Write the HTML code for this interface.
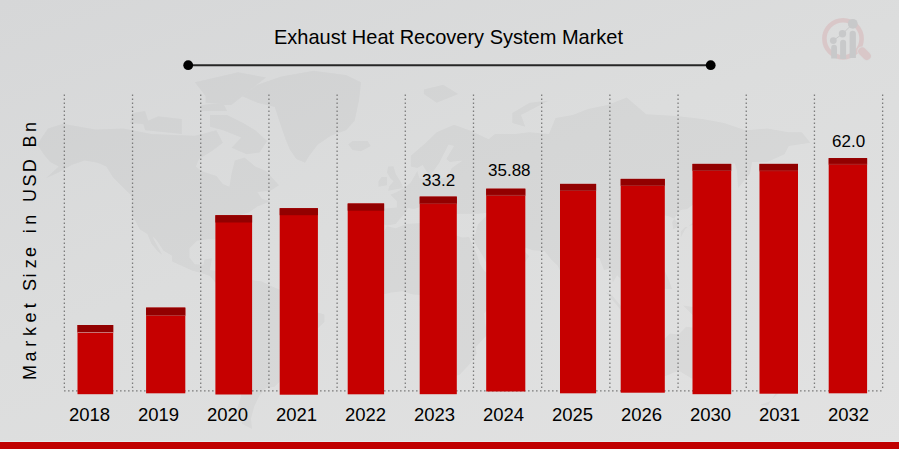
<!DOCTYPE html>
<html><head><meta charset="utf-8">
<style>
html,body{margin:0;padding:0;}
body{width:899px;height:449px;overflow:hidden;position:relative;
background:linear-gradient(160deg,#d6d7d8 0%,#dcdddd 45%,#e2e2e2 100%);
font-family:"Liberation Sans",sans-serif;}
svg{position:absolute;left:0;top:0;}
.t{position:absolute;white-space:nowrap;color:#000;line-height:1;}
</style></head><body>
<svg width="899" height="449" viewBox="0 0 899 449">
  <!-- map placeholder -->
  <g id="map" fill="#000" fill-opacity="0.03"><path d="M37.1 144.4 L47.9 128.5 L63.0 123.7 L95.4 129.6 L123.5 128.5 L151.6 133.9 L194.8 135.7 L216.4 130.3 L222.9 142.7 L212.1 151.0 L199.1 159.0 L195.9 166.6 L201.3 171.1 L216.4 176.0 L222.9 183.9 L229.4 186.7 L231.5 174.0 L234.8 160.5 L244.5 157.4 L255.3 166.6 L266.1 171.1 L279.0 185.3 L270.4 190.8 L257.4 192.1 L261.8 198.7 L270.4 201.3 L257.4 206.4 L248.8 212.6 L240.2 215.1 L235.8 223.5 L235.8 228.2 L225.0 236.2 L227.2 246.3 L226.1 250.3 L221.8 244.1 L218.6 239.6 L207.8 239.2 L197.0 240.8 L189.4 248.5 L189.4 257.3 L194.8 264.3 L203.4 264.8 L204.5 259.4 L212.1 258.3 L209.9 270.1 L218.6 271.1 L219.6 280.6 L228.3 284.1 L233.0 285.8 L227.2 288.2 L215.3 282.6 L209.9 276.0 L201.3 273.0 L192.6 270.7 L172.1 261.6 L172.1 255.7 L163.5 250.7 L157.0 240.8 L152.7 236.2 L153.8 239.6 L162.4 255.1 L158.1 251.8 L151.6 244.1 L147.3 233.9 L139.7 229.3 L132.2 215.1 L131.1 208.9 L132.2 200.0 L130.6 194.8 L123.5 188.1 L112.7 176.9 L106.2 166.6 L97.6 162.7 L84.6 160.5 L71.7 165.1 L58.7 172.6 L45.8 178.3 L58.7 166.6 L50.1 162.1 L43.6 154.2Z M242.3 96.2 L257.4 84.7 L281.2 76.4 L313.6 70.8 L346.0 74.9 L361.1 82.3 L359.0 100.6 L354.6 121.0 L346.0 130.3 L330.9 135.7 L317.9 144.4 L309.3 155.8 L305.0 162.7 L296.3 159.0 L289.8 149.4 L285.5 139.2 L281.2 126.7 L274.7 107.0 L257.4 102.8Z M209.9 115.1 L227.2 115.1 L244.5 123.7 L255.3 130.3 L267.2 141.0 L259.6 152.6 L246.6 154.2 L231.5 147.7 L241.2 137.5 L222.9 130.3 L209.9 126.7Z M145.1 130.3 L181.8 133.9 L181.8 119.0 L158.1 116.3 L143.0 122.9Z M205.6 102.8 L231.5 104.9 L266.1 77.4 L238.0 72.3 L194.8 82.3 L205.6 96.2Z M130.0 122.9 L149.4 124.8 L145.1 111.1 L132.2 113.1Z M201.3 111.1 L227.2 111.1 L222.9 102.8 L201.3 104.9Z M233.0 285.8 L244.5 278.9 L261.8 281.6 L270.4 285.8 L287.7 293.0 L292.0 303.3 L305.0 308.4 L324.4 314.6 L324.4 321.9 L315.8 330.2 L315.8 339.7 L311.4 349.3 L296.3 357.0 L285.5 376.1 L274.7 386.7 L266.1 387.9 L259.6 395.2 L254.2 406.6 L251.0 418.5 L252.0 429.1 L242.3 424.0 L236.9 410.5 L241.2 395.2 L241.2 383.1 L245.6 367.0 L248.2 341.8 L235.8 332.3 L225.0 315.7 L227.2 307.4 L227.2 301.2 L231.5 288.9Z M379.5 208.9 L380.6 218.7 L380.6 223.5 L387.0 225.4 L395.7 223.9 L400.0 218.7 L406.5 211.4 L407.6 208.1 L414.0 208.9 L421.6 206.4 L428.1 212.6 L434.6 221.1 L440.0 215.5 L430.2 210.1 L427.0 202.6 L432.4 203.8 L442.1 211.4 L443.2 217.5 L449.7 224.6 L451.8 221.1 L449.7 215.1 L456.2 213.8 L462.6 213.8 L477.8 213.8 L489.6 212.6 L477.8 224.6 L475.6 232.8 L474.5 236.2 L470.2 237.4 L474.5 240.8 L475.6 244.1 L484.2 258.3 L492.9 276.4 L497.2 276.8 L512.3 270.1 L523.1 264.8 L529.2 256.2 L521.6 248.5 L511.2 252.9 L508.0 247.4 L503.7 240.8 L509.1 239.6 L521.0 246.3 L532.8 250.3 L544.7 251.2 L551.2 259.4 L557.7 265.8 L567.4 286.8 L573.4 275.3 L572.8 271.1 L586.8 261.6 L594.4 257.3 L599.4 258.3 L604.1 270.1 L610.6 268.4 L612.8 282.6 L617.1 275.3 L622.5 280.6 L626.8 285.3 L635.4 279.5 L633.3 270.1 L630.0 262.6 L634.4 258.3 L638.7 260.5 L645.2 256.2 L652.7 254.0 L659.2 247.4 L663.5 239.6 L661.4 233.9 L657.0 228.2 L664.6 223.5 L654.9 221.1 L653.8 217.5 L662.4 215.1 L668.9 216.3 L674.3 218.7 L679.7 225.8 L673.2 229.3 L672.2 222.3 L676.5 215.1 L680.8 210.1 L687.3 208.9 L699.2 200.0 L703.5 186.7 L695.9 179.8 L691.6 177.8 L706.7 165.1 L721.8 163.6 L734.8 163.6 L737.0 171.1 L738.0 188.1 L749.9 174.0 L752.1 162.1 L767.2 162.1 L784.5 154.2 L788.8 146.0 L810.4 142.7 L801.8 132.2 L788.8 132.2 L767.2 128.5 L745.6 130.3 L724.0 122.9 L702.4 119.0 L676.5 115.9 L646.2 114.3 L626.8 97.5 L607.4 104.9 L587.9 109.0 L572.8 115.1 L555.5 117.9 L549.0 133.9 L529.6 132.2 L514.5 133.9 L495.0 133.9 L488.6 139.2 L471.3 131.1 L454.0 124.8 L436.7 132.2 L425.9 142.7 L410.8 155.8 L410.8 166.6 L417.3 168.1 L422.7 165.1 L427.0 172.6 L430.2 175.5 L438.9 163.6 L448.6 144.4 L454.0 146.0 L446.4 159.0 L449.7 162.1 L462.6 160.5 L451.8 168.1 L447.5 176.9 L430.2 179.8 L419.4 178.3 L417.3 171.1 L410.8 182.6 L404.3 188.1 L396.8 192.1 L390.3 194.8 L396.8 201.3 L396.8 207.6Z M363.3 259.4 L364.4 252.9 L371.9 245.0 L379.5 238.5 L387.0 226.3 L395.7 228.2 L406.5 223.9 L421.6 223.0 L423.8 228.2 L421.6 230.5 L432.4 233.9 L443.2 237.4 L443.2 233.9 L454.0 235.1 L462.6 237.4 L469.1 236.9 L470.2 239.6 L472.4 245.2 L476.7 254.0 L479.9 263.7 L484.2 271.1 L493.5 277.4 L495.0 281.6 L510.2 278.9 L510.2 282.6 L503.7 294.0 L488.6 307.4 L484.2 313.6 L485.3 324.0 L487.5 334.4 L475.6 347.2 L476.7 353.7 L470.2 363.6 L459.4 375.0 L447.5 377.3 L440.0 376.1 L436.7 365.8 L432.4 360.3 L425.5 339.7 L429.2 327.1 L425.9 313.6 L419.4 305.4 L420.5 295.1 L413.0 294.4 L402.2 291.3 L391.4 292.6 L383.8 294.2 L374.1 288.9 L367.6 280.6 L363.3 272.8 L365.4 263.7Z M495.0 355.9 L501.5 355.9 L509.1 335.5 L506.5 328.1 L495.0 338.6Z M646.2 349.3 L646.2 359.2 L648.4 376.1 L654.9 378.4 L665.7 376.1 L678.6 370.4 L691.6 378.4 L698.1 378.4 L702.4 385.5 L715.4 387.9 L724.0 384.3 L731.6 362.5 L730.5 355.9 L715.4 342.9 L714.3 334.4 L707.8 325.4 L705.6 339.7 L693.8 334.4 L695.9 328.1 L686.2 326.7 L678.6 334.4 L670.0 333.4 L663.5 339.7Z M605.8 292.0 L611.7 295.1 L629.0 315.7 L624.6 314.6Z M635.4 300.2 L652.7 288.9 L657.0 293.0 L650.6 311.5 L638.7 309.5Z M626.8 316.7 L647.3 319.4 L629.0 318.8Z M683.0 305.4 L704.6 308.7 L724.0 325.0 L708.9 322.9 L698.1 320.2Z M680.8 237.4 L685.1 229.3 L704.6 212.6 L706.7 208.9 L714.3 207.6 L705.6 202.6 L701.3 211.4 L702.4 218.7 L694.8 224.6 L685.1 227.0 L680.8 231.6Z M388.1 190.8 L403.2 188.1 L401.1 182.6 L395.7 174.0 L393.5 166.3 L388.1 166.6 L387.0 172.6 L390.3 178.3 L393.5 181.2 L389.2 186.2Z M378.4 186.7 L387.0 185.3 L387.0 176.9 L381.6 176.9 L378.4 181.2Z M348.2 144.4 L352.5 141.0 L367.6 141.0 L370.8 146.0 L361.1 151.3 L352.5 150.0Z M423.8 94.0 L436.7 102.8 L458.3 94.0 L443.2 84.7 L423.8 89.4Z M512.3 122.9 L525.3 126.7 L521.0 115.1 L549.0 100.6 L529.6 102.8 L512.3 113.1Z M659.2 264.8 L663.5 268.0 L667.8 277.4 L672.2 288.9 L663.5 288.9 L661.4 274.3Z M706.7 201.3 L710.0 193.4 L708.9 179.8 L706.7 179.8Z M773.0 377.3 L785.6 384.8 L778.0 394.0 L769.4 401.5 L759.6 405.3 L768.3 405.3 L775.8 392.8Z"/></g>
  <!-- gridlines -->
  <g stroke="#7c7c7c" stroke-width="1.3" stroke-dasharray="1.6 2.4" fill="none">
    <path d="M64.35 94.5V390 M132.54 94.5V390 M200.73 94.5V390 M268.92 94.5V390 M337.11 94.5V390 M405.30 94.5V390 M473.49 94.5V390 M541.68 94.5V390 M609.87 94.5V390 M678.06 94.5V390 M746.25 94.5V390 M814.44 94.5V390 M882.63 94.5V390"/>
    <path d="M64 390.8H884"/>
  </g>
  <!-- bars -->
  <g id="bars">
    <rect x="77.5" y="325.0" width="35.7" height="69.2" fill="#c60000"/>
    <rect x="77.5" y="325.0" width="35.7" height="7.0" fill="#920000"/>
    <rect x="77.5" y="332.0" width="35.7" height="1" fill="#c87474"/>
    <rect x="146.1" y="307.6" width="39.2" height="85.7" fill="#c60000"/>
    <rect x="146.1" y="307.6" width="39.2" height="7.4" fill="#920000"/>
    <rect x="146.1" y="315.0" width="39.2" height="1" fill="#b03333"/>
    <rect x="215.4" y="215.2" width="36.7" height="179.3" fill="#c60000"/>
    <rect x="215.4" y="215.2" width="36.7" height="7.3" fill="#920000"/>
    <rect x="279.7" y="208.2" width="38.2" height="186.5" fill="#c60000"/>
    <rect x="279.7" y="208.2" width="38.2" height="7.0" fill="#920000"/>
    <rect x="347.7" y="203.5" width="36.4" height="190.8" fill="#c60000"/>
    <rect x="347.7" y="203.5" width="36.4" height="7.2" fill="#920000"/>
    <rect x="419.7" y="196.6" width="37.1" height="197.6" fill="#c60000"/>
    <rect x="419.7" y="196.6" width="37.1" height="6.5" fill="#920000"/>
    <rect x="419.7" y="203.1" width="37.1" height="1" fill="#a52020"/>
    <rect x="486.2" y="188.7" width="39.1" height="202.8" fill="#c60000"/>
    <rect x="486.2" y="188.7" width="39.1" height="6.2" fill="#920000"/>
    <rect x="486.2" y="194.9" width="39.1" height="1" fill="#a83030"/>
    <rect x="560.0" y="183.9" width="36.1" height="209.4" fill="#c60000"/>
    <rect x="560.0" y="183.9" width="36.1" height="6.1" fill="#920000"/>
    <rect x="560.0" y="190.0" width="36.1" height="1" fill="#a52020"/>
    <rect x="620.7" y="178.9" width="44.1" height="213.8" fill="#c60000"/>
    <rect x="620.7" y="178.9" width="44.1" height="6.1" fill="#920000"/>
    <rect x="620.7" y="185.0" width="44.1" height="1" fill="#a52020"/>
    <rect x="692.5" y="163.9" width="38.7" height="230.3" fill="#c60000"/>
    <rect x="692.5" y="163.9" width="38.7" height="6.1" fill="#920000"/>
    <rect x="692.5" y="170.0" width="38.7" height="1" fill="#a52020"/>
    <rect x="759.5" y="163.9" width="38.5" height="229.8" fill="#c60000"/>
    <rect x="759.5" y="163.9" width="38.5" height="6.4" fill="#920000"/>
    <rect x="759.5" y="170.3" width="38.5" height="1" fill="#a52020"/>
    <rect x="828.7" y="158.1" width="38.4" height="235.2" fill="#c60000"/>
    <rect x="828.7" y="158.1" width="38.4" height="5.7" fill="#920000"/>
    <rect x="828.7" y="163.8" width="38.4" height="1" fill="#a52525"/>
  </g>
  <!-- title line -->
  <line x1="188" y1="65.3" x2="711" y2="65.3" stroke="#262626" stroke-width="2"/>
  <circle cx="188.2" cy="65.2" r="4.9" fill="#000"/>
  <circle cx="710.7" cy="65.2" r="4.9" fill="#000"/>
  <!-- logo -->
  <g>
    <circle cx="843" cy="38.8" r="18.6" fill="none" stroke="#d9c7c8" stroke-width="4.6"/>
    <line x1="862" y1="51.2" x2="866.8" y2="56" stroke="#dadbdb" stroke-width="9.6" stroke-linecap="round"/>
    <line x1="862.2" y1="51.4" x2="866.8" y2="56" stroke="#d9c7c8" stroke-width="8" stroke-linecap="round"/>
    <g fill="#c8c9ca">
      <path d="M831.2 58.5V47.6A2.90 2.90 0 0 1 837.0 47.6V58.5Z M840.1 59V42.8A3.00 3.00 0 0 1 846.1 42.8V59Z M849.6 58V34.0A3.15 3.15 0 0 1 855.9 34.0V58Z"/>
      <circle cx="833.3" cy="40.6" r="3.4"/>
      <circle cx="842.5" cy="33.8" r="3.7"/>
      <circle cx="852.8" cy="23.8" r="4.9"/>
    </g>
    <path d="M833.3 40.6 L842.5 33.8 L852.8 23.8" stroke="#c8c9ca" stroke-width="1" fill="none"/>
  </g>
  <!-- bottom stripe -->
  <rect x="0" y="441" width="899" height="1" fill="#e3e7e8"/>
  <rect x="0" y="442" width="899" height="7" fill="#c00000"/>
  <text transform="rotate(-90)" y="36" x="-380.0 -361.59 -346.65 -335.92 -322.49 -308.17 -290.9 -277.6 -268.22 -256.89 -233.2 -224.72 -202.0 -186.5 -172.21 -147.57 -131.92" font-family="Liberation Sans" font-size="18" fill="#000">MarketSizeinUSDBn</text>
</svg>
<div class="t" style="left:274px;top:27px;font-size:20px;transform:scaleY(1.04);transform-origin:0 18px;">Exhaust Heat Recovery System Market</div>
<div class="t" style="left:69px;top:406px;font-size:18.5px;">2018</div>
<div class="t" style="left:138px;top:406px;font-size:18.5px;">2019</div>
<div class="t" style="left:207px;top:406px;font-size:18.5px;">2020</div>
<div class="t" style="left:276px;top:406px;font-size:18.5px;">2021</div>
<div class="t" style="left:345px;top:406px;font-size:18.5px;">2022</div>
<div class="t" style="left:414px;top:406px;font-size:18.5px;">2023</div>
<div class="t" style="left:483px;top:406px;font-size:18.5px;">2024</div>
<div class="t" style="left:552px;top:406px;font-size:18.5px;">2025</div>
<div class="t" style="left:621px;top:406px;font-size:18.5px;">2026</div>
<div class="t" style="left:690px;top:406px;font-size:18.5px;">2030</div>
<div class="t" style="left:759px;top:406px;font-size:18.5px;">2031</div>
<div class="t" style="left:828px;top:406px;font-size:18.5px;">2032</div>
<div class="t" style="left:422px;top:172px;font-size:17px;">33.2</div>
<div class="t" style="left:488px;top:162px;font-size:17px;">35.88</div>
<div class="t" style="left:832px;top:133px;font-size:17px;">62.0</div>
</body></html>
